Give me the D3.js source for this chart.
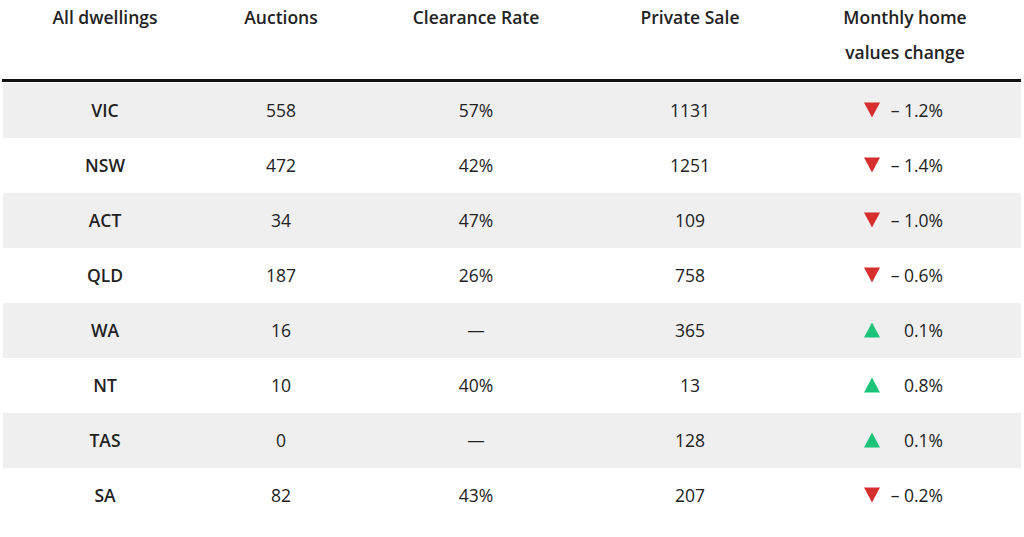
<!DOCTYPE html>
<html><head><meta charset="utf-8">
<script src="https://cdn.jsdelivr.net/npm/d3@7"></script>
<style>body{margin:0;background:#fff}</style>
</head><body>
<svg id="t" width="1024" height="537"></svg>
<script>
// table data
var headers = [["All dwellings"], ["Auctions"], ["Clearance Rate"], ["Private Sale"], ["Monthly home", "values change"]];
var states = ["VIC", "NSW", "ACT", "QLD", "WA", "NT", "TAS", "SA"];
var auctions = [558, 472, 34, 187, 16, 10, 0, 82];
var clearance = ["57%", "42%", "47%", "26%", "—", "40%", "—", "43%"];
var privateSale = [1131, 1251, 109, 758, 365, 13, 128, 207];
var change = [-1.2, -1.4, -1.0, -0.6, 0.1, 0.8, 0.1, -0.2];

var svg = d3.select("#t");
var colX = [105, 281, 476, 690, 905];
var y = d3.scaleBand().domain(states).range([83, 523]);

// header
headers.forEach(function (h, i) {
  h.forEach(function (line, j) {
    svg.append("text").attr("x", colX[i]).attr("y", 24 + j * 35)
      .attr("text-anchor", "middle").attr("font-family", "Open Sans")
      .attr("font-weight", 600).attr("font-size", 17.5).attr("fill", "#222").text(line);
  });
});
svg.append("rect").attr("x", 2).attr("y", 79).attr("width", 1019).attr("height", 3).attr("fill", "#111");

var rows = svg.selectAll("g.row").data(states).join("g").attr("class", "row")
  .attr("transform", function (d) { return "translate(0," + y(d) + ")"; });

rows.filter(function (d, i) { return i % 2 === 0; }).append("rect")
  .attr("x", 3).attr("width", 1018).attr("height", y.bandwidth()).attr("fill", "#efefef");

var mid = y.bandwidth() / 2 + 6.5;
function cell(x, fn, bold) {
  rows.append("text").attr("x", x).attr("y", mid).attr("text-anchor", "middle")
    .attr("font-family", "Open Sans").attr("font-size", 17.5)
    .attr("font-weight", bold ? 600 : 400).attr("fill", "#222").text(fn);
}
cell(colX[0], function (d) { return d; }, true);
cell(colX[1], function (d, i) { return auctions[i]; });
cell(colX[2], function (d, i) { return clearance[i]; });
cell(colX[3], function (d, i) { return privateSale[i]; });

rows.append("path")
  .attr("d", function (d, i) {
    var cy = y.bandwidth() / 2;
    return change[i] < 0
      ? "M864," + (cy - 8) + "L880," + (cy - 8) + "L872," + (cy + 7) + "Z"
      : "M864," + (cy + 7) + "L880," + (cy + 7) + "L872," + (cy - 8) + "Z";
  })
  .attr("fill", function (d, i) { return change[i] < 0 ? "#d62d2d" : "#1cc47a"; });

rows.append("text").attr("x", 943).attr("y", mid).attr("text-anchor", "end")
  .attr("font-family", "Open Sans").attr("font-size", 17.5).attr("fill", "#222")
  .text(function (d, i) { return (change[i] < 0 ? "– " : "") + Math.abs(change[i]).toFixed(1) + "%"; });
</script>
</body></html>
